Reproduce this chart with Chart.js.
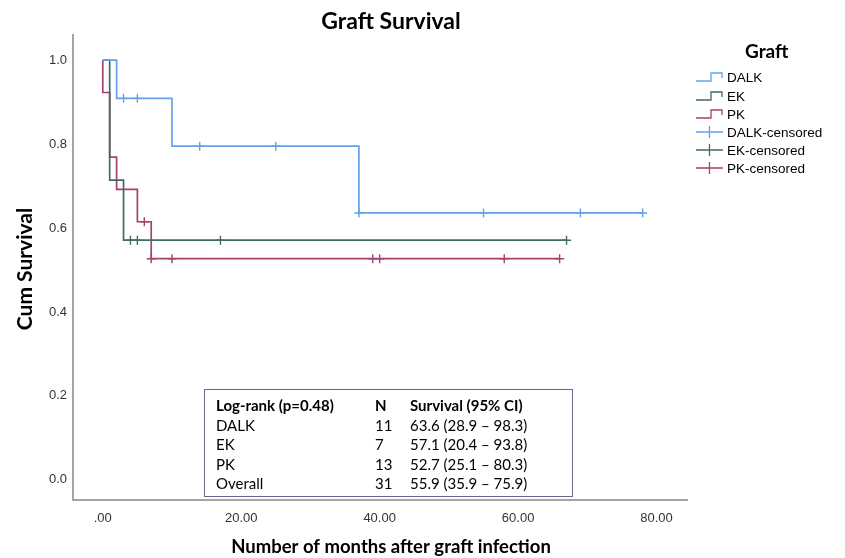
<!DOCTYPE html>
<html>
<head>
<meta charset="utf-8">
<script src="https://cdn.jsdelivr.net/npm/chart.js@4"></script>
<style>
  html, body { margin: 0; padding: 0; background: #fff; }
  #wrap { width: 845px; height: 558px; position: relative; }
</style>
</head>
<body>
<div id="wrap"><canvas id="km"></canvas></div>
<script>
// Kaplan-Meier step points (time in months, cumulative survival)
var dalkTimes = [0, 2, 10, 37, 78];
var dalkSurv = [1.0, 0.909, 0.795, 0.636, 0.636];
var dalkCensorTimes = [3, 5, 14, 25, 37, 55, 69, 78];
var dalkCensorSurv = [0.909, 0.909, 0.795, 0.795, 0.636, 0.636, 0.636, 0.636];

var ekTimes = [0, 1, 3, 67];
var ekSurv = [1.0, 0.714, 0.571, 0.571];
var ekCensorTimes = [4, 5, 17, 67];
var ekCensorSurv = [0.571, 0.571, 0.571, 0.571];

var pkTimes = [0, 0, 1, 2, 5, 7, 66];
var pkSurv = [1.0, 0.923, 0.769, 0.692, 0.615, 0.527, 0.527];
var pkCensorTimes = [6, 7, 10, 39, 40, 58, 66];
var pkCensorSurv = [0.615, 0.527, 0.527, 0.527, 0.527, 0.527, 0.527];

var xTicks = [0, 20, 40, 60, 80];
var xTickLabels = ['.00', '20.00', '40.00', '60.00', '80.00'];
var yTicks = [0, 0.2, 0.4, 0.6, 0.8, 1.0];

var legendLabels = ['DALK', 'EK', 'PK', 'DALK-censored', 'EK-censored', 'PK-censored'];

var tableHeader = ['Log-rank (p=0.48)', 'N', 'Survival (95% CI)'];
var tableGroups = ['DALK', 'EK', 'PK', 'Overall'];
var tableN = ['11', '7', '13', '31'];
var tableSurvival = ['63.6 (28.9 \u2013 98.3)', '57.1 (20.4 \u2013 93.8)', '52.7 (25.1 \u2013 80.3)', '55.9 (35.9 \u2013 75.9)'];

var BLUE = '#63a2ea';
var GREEN = '#3f6c65';
var PINK = '#a3416f';
var TXT_FONT = 'Lato, "Open Sans", sans-serif';

function pts(xs, ys) {
    return xs.map(function (x, i) { return { x: x, y: ys[i] }; });
}

function stepSet(label, xs, ys, color) {
    return {
        label: label, data: pts(xs, ys), borderColor: color, borderWidth: 1.7,
        stepped: 'before', pointRadius: 0, fill: false
    };
}

function censorSet(label, xs, ys, color) {
    return {
        type: 'scatter', label: label, data: pts(xs, ys), borderColor: color,
        backgroundColor: color, pointStyle: 'cross', pointRadius: 4.5,
        pointBorderWidth: 1.4, showLine: false
    };
}

var overlay = {
    id: 'overlay',
    afterDraw: function (chart) {
        var ctx = chart.ctx;
        ctx.save();
        ctx.fillStyle = '#000';
        ctx.textBaseline = 'middle';

        // title and axis titles
        ctx.textAlign = 'center';
        ctx.font = 'bold 23px ' + TXT_FONT;
        ctx.fillText('Graft Survival', 391, 22);
        ctx.font = 'bold 18.5px ' + TXT_FONT;
        ctx.fillText('Number of months after graft infection', 391, 547);
        ctx.save();
        ctx.translate(25, 269);
        ctx.rotate(-Math.PI / 2);
        ctx.font = 'bold 21px ' + TXT_FONT;
        ctx.fillText('Cum Survival', 0, 0);
        ctx.restore();

        // legend
        ctx.textAlign = 'left';
        ctx.font = 'bold 19px ' + TXT_FONT;
        ctx.fillText('Graft', 745, 52);
        var colors = [BLUE, GREEN, PINK, BLUE, GREEN, PINK];
        var rowsY = [77, 96, 114, 132, 150, 168];
        ctx.font = '13.5px "Liberation Sans", Arial, sans-serif';
        legendLabels.forEach(function (lab, i) {
            var y = rowsY[i];
            ctx.strokeStyle = colors[i];
            ctx.lineWidth = 1.3;
            ctx.beginPath();
            if (i < 3) {
                ctx.moveTo(696, y + 4);
                ctx.lineTo(711, y + 4);
                ctx.lineTo(711, y - 4);
                ctx.lineTo(722, y - 4);
                ctx.lineTo(722, y + 1);
            } else {
                ctx.moveTo(696, y);
                ctx.lineTo(723, y);
                ctx.moveTo(709.5, y - 6);
                ctx.lineTo(709.5, y + 6);
            }
            ctx.stroke();
            ctx.fillStyle = '#000';
            ctx.fillText(lab, 727, y + 1);
        });

        // results table
        ctx.fillStyle = '#fff';
        ctx.fillRect(204, 389, 368, 107);
        ctx.strokeStyle = '#66668f';
        ctx.lineWidth = 1;
        ctx.strokeRect(204.5, 389.5, 368, 107);
        ctx.fillStyle = '#000';
        var colX = [216, 375, 410];
        ctx.font = 'bold 15px ' + TXT_FONT;
        tableHeader.forEach(function (t, i) { ctx.fillText(t, colX[i], 406); });
        ctx.font = '15px ' + TXT_FONT;
        var rowY = [426, 445, 465, 484];
        tableGroups.forEach(function (g, i) {
            ctx.fillText(g, colX[0], rowY[i]);
            ctx.fillText(tableN[i], colX[1], rowY[i]);
            ctx.fillText(tableSurvival[i], colX[2], rowY[i]);
        });
        ctx.restore();
    }
};

new Chart(document.getElementById('km'), {
    type: 'line',
    data: {
        datasets: [
            stepSet('DALK', dalkTimes, dalkSurv, BLUE),
            stepSet('EK', ekTimes, ekSurv, GREEN),
            stepSet('PK', pkTimes, pkSurv, PINK),
            censorSet('DALK-censored', dalkCensorTimes, dalkCensorSurv, BLUE),
            censorSet('EK-censored', ekCensorTimes, ekCensorSurv, GREEN),
            censorSet('PK-censored', pkCensorTimes, pkCensorSurv, PINK)
        ]
    },
    options: {
        responsive: true,
        maintainAspectRatio: false,
        animation: false,
        layout: { padding: { left: 0, right: 158, top: 35, bottom: 0 } },
        plugins: { legend: { display: false }, tooltip: { enabled: false } },
        scales: {
            x: {
                type: 'linear', min: -4.3, max: 84.4,
                grid: { display: false, drawTicks: false },
                border: { color: '#a3a3a3', width: 2 },
                afterBuildTicks: function (s) { s.ticks = xTicks.map(function (v) { return { value: v }; }); },
                afterFit: function (s) { s.height = 58; },
                ticks: {
                    padding: 11, color: '#333', maxRotation: 0,
                    font: { family: '"Liberation Sans", Arial, sans-serif', size: 13 },
                    callback: function (v) { var k = xTicks.indexOf(v); return k >= 0 ? xTickLabels[k] : ''; }
                }
            },
            y: {
                min: -0.048, max: 1.06,
                grid: { display: false, drawTicks: false },
                border: { color: '#a3a3a3', width: 2 },
                afterBuildTicks: function (s) { s.ticks = yTicks.map(function (v) { return { value: v }; }); },
                afterFit: function (s) { s.width = 73; },
                ticks: {
                    padding: 6, color: '#333',
                    font: { family: '"Liberation Sans", Arial, sans-serif', size: 13 },
                    callback: function (v) { return Number(v).toFixed(1); }
                }
            }
        }
    },
    plugins: [overlay]
});
</script>
</body>
</html>
